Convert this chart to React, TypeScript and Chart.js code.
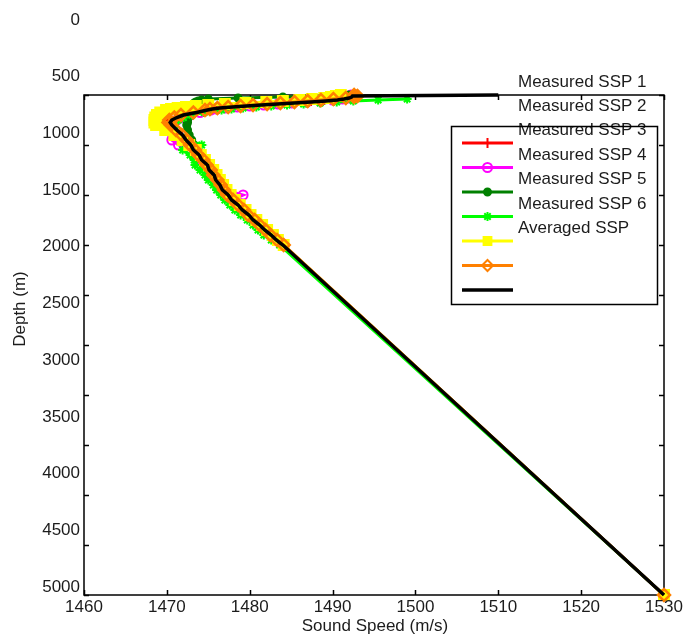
import React, { useEffect, useRef } from 'react';
import { Chart, registerables } from 'chart.js';
import { drawPoint } from 'chart.js/helpers';

Chart.register(...registerables);

// ---------- data ----------
const depths = [
  0, 10, 20, 30, 40, 50, 60, 70, 80, 90, 100, 110, 120, 130, 140, 150,
  175, 200, 225, 250, 275, 300,
  350, 400, 450, 500, 550, 600, 650, 700, 750, 800, 850, 900, 950, 1000,
  1050, 1100, 1150, 1200, 1250, 1300, 1350, 1400, 1450, 1500,
  5000,
];

const ssp1 = [
  1492.4, 1492.6, 1492.3, 1491.7, 1490.4, 1489.0, 1487.4, 1485.6, 1483.8, 1482.0, 1480.2, 1478.6, 1477.2, 1476.0, 1475.3, 1474.7,
  1473.3, 1471.9, 1471.0, 1470.5, 1470.3, 1470.6,
  1471.2, 1471.8, 1472.4, 1472.8, 1473.3, 1473.8, 1474.3, 1474.8, 1475.2, 1475.6, 1476.0, 1476.4, 1476.8, 1477.3,
  1477.9, 1478.5, 1479.2, 1479.8, 1480.5, 1481.2, 1481.9, 1482.5, 1483.2, 1484.0,
  1530,
];

const ssp2 = [
  1492.2, 1492.5, 1492.4, 1492.0, 1491.2, 1490.0, 1488.5, 1486.9, 1485.1, 1483.4, 1481.7, 1480.0, 1478.5, 1477.1, 1476.0, 1475.3,
  1474.0, 1472.8, 1471.9, 1471.2, 1470.9, 1470.8,
  1470.8, 1470.7, 1470.6, 1471.4, 1472.9, 1473.6, 1474.1, 1474.7, 1475.1, 1475.6, 1476.0, 1476.4, 1477.0, 1479.2,
  1477.9, 1478.6, 1479.2, 1479.8, 1480.5, 1481.2, 1481.9, 1482.5, 1483.2, 1484.0,
  1530,
];

const ssp3 = [
  1492.0, 1489.5, 1484.0, 1478.6, 1475.0, 1474.2, 1473.8, 1473.5, 1473.3, 1473.2, 1473.1, 1473.0, 1472.9, 1472.8, 1472.8, 1472.7,
  1472.7, 1472.6, 1472.6, 1472.5, 1472.5, 1472.4,
  1472.5, 1472.7, 1473.0, 1473.3, 1473.5, 1473.9, 1474.3, 1474.8, 1475.2, 1475.6, 1476.0, 1476.4, 1476.8, 1477.3,
  1477.9, 1478.5, 1479.1, 1479.8, 1480.5, 1481.2, 1481.9, 1482.5, 1483.2, 1484.0,
  1530,
];

const ssp4 = [
  null, null, null, null, 1499.0, 1495.5, 1492.5, 1490.5, 1488.5, 1486.5, 1484.5, 1482.6, 1480.8, 1479.2, 1477.8, 1476.6,
  1474.5, 1473.0, 1472.0, 1471.4, 1471.0, 1470.9,
  1471.0, 1471.3, 1471.8, 1474.2, 1471.9, 1472.8, 1473.3, 1473.4, 1474.0, 1474.6, 1475.0, 1475.6, 1476.0, 1476.5,
  1477.0, 1477.6, 1478.2, 1478.9, 1479.7, 1480.4, 1481.0, 1481.7, 1482.6, 1483.6,
  1530,
];

const ssp5 = [
  1491.0, 1490.4, 1489.8, 1489.0, 1487.5, 1486.0, 1484.0, 1482.0, 1479.5, 1477.0, 1475.0, 1473.5, 1472.3, 1471.3, 1470.5, 1469.9,
  1469.2, 1468.8, 1468.6, 1468.5, 1468.5, 1468.7,
  1469.8, 1470.9, 1471.9, 1472.7, 1473.5, 1474.1, 1474.6, 1475.1, 1475.6, 1476.0, 1476.4, 1476.8, 1477.2, 1477.7,
  1478.2, 1478.8, 1479.5, 1480.1, 1480.8, 1481.5, 1482.1, 1482.8, 1483.4, 1484.1,
  1530,
];

const ssp6 = [
  1492.6, 1493.0, 1492.6, 1491.6, 1490.1, 1488.6, 1487.0, 1485.4, 1483.7, 1482.1, 1480.4, 1478.9, 1477.4, 1476.1, 1475.2, 1474.6,
  1473.2, 1471.7, 1470.9, 1470.3, 1470.2, 1470.5,
  1471.1, 1471.8, 1472.4, 1472.8, 1473.4, 1473.8, 1474.4, 1474.8, 1475.3, 1475.6, 1476.1, 1476.5, 1476.9, 1477.3,
  1478.0, 1478.6, 1479.3, 1479.8, 1480.6, 1481.2, 1481.9, 1482.5, 1483.3, 1484.1,
  1530,
];

const averaged = [
  1510.0, 1492.4, 1492.3, 1492.0, 1491.4, 1490.6, 1489.2, 1487.4, 1485.4, 1483.4, 1481.4, 1479.6, 1477.9, 1476.4, 1475.5, 1474.9,
  1473.6, 1472.0, 1471.2, 1470.6, 1470.4, 1470.6,
  1471.2, 1471.9, 1472.3, 1472.9, 1473.2, 1473.9, 1474.2, 1474.9, 1475.1, 1475.7, 1475.9, 1476.4, 1476.7, 1477.4,
  1477.8, 1478.6, 1479.1, 1479.9, 1480.4, 1481.2, 1481.8, 1482.6, 1483.2, 1484.0,
  1530,
];

const seriesValues = [ssp1, ssp2, ssp3, ssp4, ssp5, ssp6, averaged];
const seriesNames = [
  'Measured SSP 1',
  'Measured SSP 2',
  'Measured SSP 3',
  'Measured SSP 4',
  'Measured SSP 5',
  'Measured SSP 6',
  'Averaged SSP',
];
const xTicks = [1460, 1470, 1480, 1490, 1500, 1510, 1520, 1530];
const yTicks = [0, 500, 1000, 1500, 2000, 2500, 3000, 3500, 4000, 4500, 5000];
const xTitle = 'Sound Speed (m/s)';
const yTitle = 'Depth (m)';

// ---------- styles / layout ----------
const CLEAR = 'rgba(0,0,0,0)';
const STYLES: any[] = [
  { color: '#ff0000', pointStyle: 'cross', radius: 5, fill: CLEAR, line: 3, pb: 2 },
  { color: '#ff00ff', pointStyle: 'circle', radius: 4.5, fill: CLEAR, line: 3, pb: 2 },
  { color: '#008000', pointStyle: 'circle', radius: 3.5, fill: '#008000', line: 3, pb: 2 },
  { color: '#00ff00', pointStyle: 'star', radius: 4.5, fill: CLEAR, line: 3, pb: 2 },
  { color: '#ffff00', pointStyle: 'rect', radius: 7, fill: '#ffff00', line: 3, pb: 2 },
  { color: '#ff8000', pointStyle: 'rectRot', radius: 6, fill: CLEAR, line: 3, pb: 2.5 },
  { color: '#000000', pointStyle: false, radius: 0, fill: '#000000', line: 3.5, pb: 0 },
];
const FONT = '17px "Liberation Sans", Arial, sans-serif';
const TEXT_COLOR = '#1c1c1c';
const W = 684;
const H = 639;
const Y_LABEL_TOP = 20;
const Y_LABEL_BOTTOM = 587;
const Y_LABEL_RIGHT = 80;
const X_LABEL_Y = 607;
const TICK_LEN = 5;
const LEGEND_BOX = { left: 451.5, top: 126.5, right: 657.5, bottom: 304.5 };
const LEGEND_SAMPLE = { x0: 462, x1: 513, y0: 143, step: 24.5 };
const LEGEND_TEXT = { x: 518, y0: 82, step: 24.4 };

const framePlugin = {
  id: 'matlabFrame',
  beforeDatasetsDraw(chart: any) {
    const { ctx, chartArea: a, scales } = chart;
    const xs = scales.x;
    const ys = scales.y;
    ctx.save();
    ctx.strokeStyle = '#000';
    ctx.lineWidth = 1.5;
    ctx.strokeRect(a.left, a.top, a.right - a.left, a.bottom - a.top);
    ctx.beginPath();
    xTicks.forEach((v) => {
      const px = Math.round(xs.getPixelForValue(v)) + 0.5;
      ctx.moveTo(px, a.bottom);
      ctx.lineTo(px, a.bottom - TICK_LEN);
      ctx.moveTo(px, a.top);
      ctx.lineTo(px, a.top + TICK_LEN);
    });
    yTicks.forEach((v) => {
      const py = Math.round(ys.getPixelForValue(v)) + 0.5;
      ctx.moveTo(a.left, py);
      ctx.lineTo(a.left + TICK_LEN, py);
      ctx.moveTo(a.right, py);
      ctx.lineTo(a.right - TICK_LEN, py);
    });
    ctx.stroke();
    ctx.restore();
  },
  afterDatasetsDraw(chart: any) {
    const { ctx, chartArea: a, scales } = chart;
    const xs = scales.x;
    ctx.save();
    ctx.font = FONT;
    ctx.fillStyle = TEXT_COLOR;
    // x tick labels
    ctx.textAlign = 'center';
    ctx.textBaseline = 'middle';
    xTicks.forEach((v) => ctx.fillText(String(v), xs.getPixelForValue(v), X_LABEL_Y));
    // y tick labels (as drawn in the reference, spread from top to bottom)
    ctx.textAlign = 'right';
    const yMin = yTicks[0];
    const yMax = yTicks[yTicks.length - 1];
    yTicks.forEach((v) => {
      const py = Y_LABEL_TOP + ((v - yMin) / (yMax - yMin)) * (Y_LABEL_BOTTOM - Y_LABEL_TOP);
      ctx.fillText(String(v), Y_LABEL_RIGHT, py);
    });
    // titles
    ctx.textAlign = 'center';
    ctx.fillText(xTitle, (a.left + a.right) / 2 + 1, 626);
    ctx.save();
    ctx.translate(20, 309);
    ctx.rotate(-Math.PI / 2);
    ctx.fillText(yTitle, 0, 0);
    ctx.restore();

    // legend
    const b = LEGEND_BOX;
    ctx.fillStyle = '#ffffff';
    ctx.fillRect(b.left, b.top, b.right - b.left, b.bottom - b.top);
    ctx.fillStyle = TEXT_COLOR;
    ctx.textAlign = 'left';
    seriesNames.forEach((n, i) => ctx.fillText(n, LEGEND_TEXT.x, LEGEND_TEXT.y0 + i * LEGEND_TEXT.step));
    STYLES.forEach((s, i) => {
      const y = LEGEND_SAMPLE.y0 + i * LEGEND_SAMPLE.step;
      ctx.strokeStyle = s.color;
      ctx.lineWidth = s.line;
      ctx.beginPath();
      ctx.moveTo(LEGEND_SAMPLE.x0, y);
      ctx.lineTo(LEGEND_SAMPLE.x1, y);
      ctx.stroke();
      if (s.pointStyle) {
        ctx.fillStyle = s.fill;
        ctx.lineWidth = 2;
        drawPoint(ctx, { pointStyle: s.pointStyle, radius: Math.min(s.radius, 5.5), borderWidth: 2, rotation: 0 } as any,
          (LEGEND_SAMPLE.x0 + LEGEND_SAMPLE.x1) / 2, y);
      }
    });
    ctx.strokeStyle = '#000';
    ctx.lineWidth = 1.5;
    ctx.strokeRect(b.left, b.top, b.right - b.left, b.bottom - b.top);
    ctx.restore();
  },
};

export default function App() {
  const ref = useRef<HTMLCanvasElement | null>(null);
  useEffect(() => {
    if (!ref.current) return;
    const datasets = seriesValues.map((vals, i) => {
      const s = STYLES[i];
      const data = depths
        .map((d, k) => ({ x: vals[k], y: d }))
        .filter((p) => p.x !== null && p.x !== undefined);
      return {
        label: seriesNames[i],
        data,
        showLine: true,
        borderColor: s.color,
        backgroundColor: s.fill,
        borderWidth: s.line,
        pointStyle: s.pointStyle || 'circle',
        pointRadius: s.radius,
        pointBorderWidth: s.pb,
        pointBorderColor: s.color,
        pointBackgroundColor: s.fill,
        order: seriesValues.length - 1 - i,
        clip: false as any,
        tension: 0,
      };
    });
    const chart = new Chart(ref.current, {
      type: 'scatter',
      data: { datasets },
      options: {
        animation: false,
        responsive: false,
        maintainAspectRatio: false,
        devicePixelRatio: 1,
        layout: { padding: { left: 84, top: 95, right: W - 664, bottom: H - 595 } },
        plugins: { legend: { display: false }, tooltip: { enabled: false } },
        events: [],
        scales: {
          x: { type: 'linear', display: false, min: xTicks[0], max: xTicks[xTicks.length - 1] },
          y: { type: 'linear', display: false, reverse: true, min: yTicks[0], max: yTicks[yTicks.length - 1] },
        },
      },
      plugins: [framePlugin],
    });
    return () => chart.destroy();
  }, []);
  return (
    <div style={{ position: 'fixed', left: 0, top: 0, width: W, height: H, background: '#fff' }}>
      <canvas ref={ref} width={W} height={H} style={{ width: W, height: H, display: 'block' }} />
    </div>
  );
}
